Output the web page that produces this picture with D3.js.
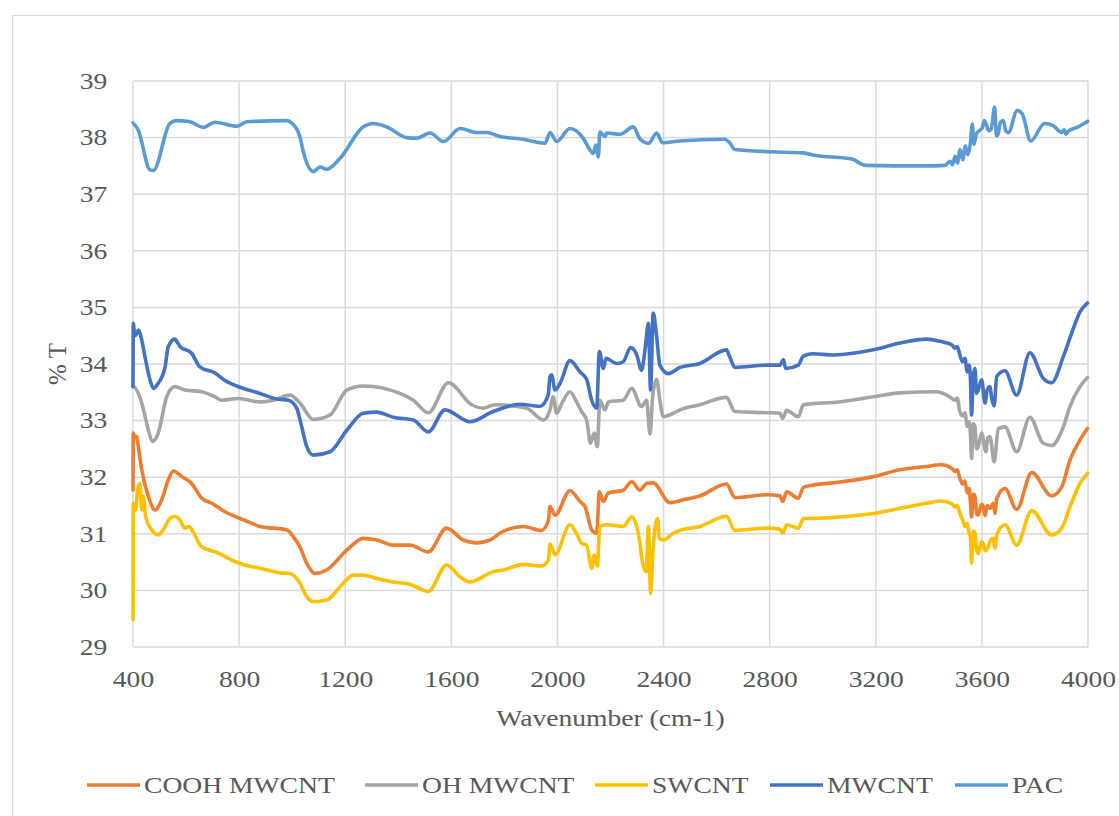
<!DOCTYPE html>
<html>
<head>
<meta charset="utf-8">
<script src="https://cdn.jsdelivr.net/npm/d3@7"></script>
<style>
  html, body { margin: 0; padding: 0; background: #fff; }
  svg { display: block; }
  svg text { fill: #595959; }
</style>
</head>
<body>
<svg id="chart" width="1119" height="816"></svg>
<script>
// FTIR spectra: [wavenumber (cm-1), transmittance (%)]
const coohMwcnt = [[400,31.77],[401,32.78],[407,32.70],[414,32.72],[420,32.54],[433,32.13],[458,31.66],[483,31.42],[508,31.60],[533,31.95],[552,32.11],[584,32.01],[621,31.89],[659,31.63],[697,31.54],[747,31.39],[820,31.24],[879,31.13],[979,31.07],[1004,30.95],[1029,30.77],[1055,30.48],[1086,30.30],[1130,30.36],[1206,30.71],[1268,30.92],[1319,30.89],[1381,30.80],[1444,30.80],[1513,30.68],[1582,31.10],[1645,30.89],[1695,30.84],[1746,30.89],[1783,31.01],[1871,31.13],[1940,31.06],[1966,31.24],[1972,31.48],[1991,31.33],[2047,31.76],[2085,31.57],[2104,31.48],[2129,31.07],[2148,31.01],[2158,31.74],[2173,31.57],[2192,31.72],[2248,31.77],[2280,31.92],[2311,31.77],[2336,31.89],[2361,31.90],[2424,31.55],[2474,31.60],[2537,31.67],[2637,31.88],[2669,31.64],[2789,31.69],[2839,31.67],[2849,31.57],[2864,31.74],[2908,31.63],[2927,31.82],[2964,31.86],[3040,31.90],[3191,32.01],[3291,32.13],[3392,32.19],[3448,32.22],[3486,32.16],[3499,32.10],[3507,32.13],[3517,31.98],[3527,31.88],[3536,31.93],[3545,31.72],[3552,31.80],[3557,31.55],[3561,31.30],[3568,31.70],[3574,31.66],[3580,31.36],[3586,31.33],[3599,31.52],[3605,31.48],[3612,31.32],[3620,31.50],[3631,31.45],[3643,31.54],[3649,31.36],[3656,31.62],[3687,31.80],[3731,31.43],[3788,32.08],[3863,31.67],[3901,31.83],[3932,32.30],[3970,32.66],[3998,32.86]];

const ohMwcnt = [[400,33.60],[401,33.60],[433,33.31],[458,32.83],[473,32.63],[495,32.78],[527,33.42],[558,33.60],[596,33.54],[659,33.51],[709,33.42],[734,33.36],[797,33.39],[879,33.33],[929,33.36],[992,33.45],[1029,33.31],[1080,33.02],[1143,33.10],[1206,33.54],[1268,33.61],[1406,33.48],[1457,33.36],[1513,33.14],[1589,33.67],[1677,33.28],[1720,33.22],[1765,33.28],[1884,33.22],[1947,33.01],[1972,33.19],[1984,33.42],[1997,33.13],[2016,33.30],[2047,33.51],[2072,33.33],[2091,33.16],[2110,33.01],[2125,32.60],[2139,32.78],[2150,32.54],[2160,33.36],[2179,33.19],[2192,33.33],[2248,33.36],[2280,33.57],[2317,33.25],[2336,33.36],[2349,32.76],[2359,33.42],[2374,33.73],[2386,33.36],[2399,33.07],[2437,33.13],[2462,33.19],[2537,33.28],[2637,33.41],[2669,33.16],[2789,33.14],[2839,33.13],[2849,33.04],[2864,33.18],[2908,33.07],[2927,33.28],[2964,33.30],[3040,33.32],[3191,33.42],[3291,33.49],[3429,33.51],[3479,33.42],[3499,33.36],[3507,33.40],[3517,33.16],[3527,33.08],[3536,33.14],[3545,32.90],[3552,32.98],[3557,32.75],[3561,32.33],[3568,32.95],[3574,32.89],[3580,32.50],[3586,32.54],[3599,32.78],[3615,32.45],[3622,32.70],[3631,32.72],[3637,32.55],[3646,32.27],[3662,32.86],[3687,32.89],[3731,32.45],[3781,33.06],[3831,32.60],[3863,32.56],[3907,32.89],[3932,33.25],[3970,33.60],[3998,33.76]];

const swcnt = [[400,29.48],[401,31.54],[410,31.42],[418,31.80],[426,31.89],[433,31.42],[439,31.66],[448,31.30],[470,31.07],[495,30.98],[514,31.07],[539,31.27],[558,31.31],[577,31.24],[596,31.10],[608,31.13],[659,30.77],[722,30.66],[784,30.51],[820,30.45],[879,30.39],[954,30.31],[992,30.30],[1029,30.13],[1055,29.89],[1080,29.80],[1130,29.83],[1180,30.06],[1230,30.27],[1268,30.27],[1319,30.21],[1381,30.15],[1444,30.11],[1513,29.98],[1582,30.45],[1633,30.24],[1670,30.15],[1758,30.33],[1796,30.36],[1871,30.46],[1940,30.43],[1966,30.54],[1972,30.82],[1991,30.63],[2047,31.16],[2072,31.01],[2091,30.83],[2110,30.80],[2129,30.39],[2139,30.63],[2150,30.43],[2160,31.13],[2186,31.16],[2248,31.13],[2280,31.30],[2311,30.83],[2317,30.60],[2334,30.33],[2343,31.13],[2351,29.95],[2361,30.77],[2377,31.27],[2384,30.92],[2399,30.89],[2437,31.01],[2462,31.06],[2537,31.13],[2637,31.31],[2669,31.06],[2789,31.10],[2839,31.08],[2849,31.01],[2864,31.16],[2908,31.10],[2927,31.27],[2964,31.27],[3040,31.29],[3191,31.36],[3291,31.45],[3392,31.54],[3448,31.58],[3486,31.53],[3499,31.47],[3507,31.50],[3517,31.36],[3527,31.25],[3536,31.13],[3545,31.18],[3550,31.05],[3557,30.95],[3561,30.48],[3568,31.05],[3574,31.01],[3580,30.72],[3586,30.65],[3599,30.86],[3605,30.83],[3612,30.70],[3624,30.77],[3631,30.88],[3643,30.92],[3649,30.74],[3656,30.98],[3687,31.16],[3731,30.80],[3788,31.41],[3863,30.98],[3901,31.10],[3932,31.48],[3970,31.89],[3998,32.07]];

const mwcnt = [[400,33.60],[401,34.72],[407,34.50],[414,34.54],[420,34.60],[433,34.42],[445,34.13],[464,33.72],[477,33.57],[495,33.66],[521,33.95],[533,34.31],[558,34.44],[565,34.40],[577,34.31],[621,34.19],[652,33.95],[709,33.84],[747,33.71],[803,33.59],[879,33.48],[942,33.38],[986,33.36],[1017,33.22],[1036,32.89],[1055,32.54],[1080,32.39],[1143,32.45],[1206,32.83],[1268,33.13],[1319,33.15],[1381,33.06],[1457,33.01],[1513,32.80],[1576,33.19],[1670,32.98],[1758,33.16],[1859,33.29],[1934,33.25],[1965,33.45],[1972,33.78],[1978,33.81],[1991,33.54],[2010,33.66],[2047,34.06],[2085,33.86],[2110,33.73],[2129,33.36],[2148,33.22],[2158,34.22],[2173,33.92],[2183,34.10],[2223,34.01],[2248,34.04],[2276,34.29],[2299,34.16],[2317,33.89],[2330,34.25],[2343,34.72],[2351,33.54],[2361,34.90],[2374,34.48],[2386,33.98],[2418,33.83],[2462,33.94],[2537,34.01],[2637,34.25],[2649,34.13],[2669,33.94],[2789,33.98],[2839,33.98],[2852,34.08],[2860,33.92],[2908,33.98],[2927,34.14],[2964,34.18],[3040,34.16],[3191,34.25],[3291,34.37],[3392,34.44],[3442,34.40],[3486,34.34],[3499,34.28],[3507,34.31],[3517,34.16],[3527,34.04],[3536,34.10],[3545,33.86],[3552,33.98],[3557,33.72],[3561,33.10],[3568,33.81],[3574,33.92],[3580,33.48],[3586,33.54],[3599,33.72],[3612,33.31],[3620,33.54],[3631,33.60],[3636,33.42],[3646,33.26],[3656,33.78],[3687,33.88],[3731,33.45],[3781,34.20],[3831,33.75],[3863,33.67],[3907,34.13],[3938,34.54],[3970,34.92],[3998,35.08]];

const pac = [[400,38.26],[420,38.13],[464,37.43],[477,37.42],[539,38.25],[565,38.30],[615,38.28],[665,38.18],[709,38.27],[791,38.20],[829,38.28],[979,38.30],[1000,38.25],[1029,38.02],[1042,37.75],[1080,37.40],[1105,37.48],[1130,37.44],[1180,37.63],[1268,38.19],[1306,38.25],[1356,38.19],[1432,38.00],[1469,37.99],[1520,38.08],[1570,37.93],[1633,38.16],[1695,38.09],[1733,38.09],[1783,38.02],[1871,37.97],[1953,37.90],[1972,38.09],[1997,37.93],[2047,38.16],[2097,37.99],[2123,37.78],[2135,37.72],[2145,37.87],[2154,37.66],[2160,38.10],[2179,38.02],[2186,38.08],[2236,38.06],[2286,38.19],[2312,37.97],[2344,37.90],[2374,38.08],[2396,37.91],[2461,37.94],[2630,37.97],[2649,37.91],[2669,37.79],[2799,37.75],[2928,37.73],[2967,37.69],[3110,37.62],[3162,37.51],[3382,37.50],[3460,37.51],[3480,37.58],[3489,37.52],[3499,37.67],[3508,37.55],[3518,37.79],[3528,37.61],[3538,37.85],[3547,37.70],[3557,37.91],[3564,38.24],[3570,37.88],[3579,38.06],[3590,38.12],[3602,38.18],[3609,38.30],[3616,38.24],[3626,38.12],[3635,38.15],[3648,38.54],[3655,38.03],[3661,38.06],[3670,38.27],[3681,38.30],[3690,38.12],[3700,38.09],[3733,38.48],[3752,38.42],[3784,37.94],[3836,38.25],[3869,38.21],[3901,38.09],[3910,38.14],[3917,38.06],[3927,38.12],[3959,38.18],[3999,38.29]];

const seriesNames = ["COOH MWCNT", "OH MWCNT", "SWCNT", "MWCNT", "PAC"];
const seriesColors = ["#ED7D31", "#A5A5A5", "#FFC000", "#4472C4", "#5B9BD5"];
const seriesData = [coohMwcnt, ohMwcnt, swcnt, mwcnt, pac];

const xTicks = [400, 800, 1200, 1600, 2000, 2400, 2800, 3200, 3600, 4000];
const yTicks = [29, 30, 31, 32, 33, 34, 35, 36, 37, 38, 39];

const FONT = '"Liberation Serif", "Times New Roman", serif';
const FONT_SIZE = 23;
const STRETCH = "scale(1.2,1)";   // wide text setting

const svg = d3.select("#chart");

// outer chart frame
svg.append("rect")
  .attr("x", 12.5).attr("y", 15.5)
  .attr("width", 1130).attr("height", 820)
  .attr("fill", "none").attr("stroke", "#d9d9d9").attr("stroke-width", 1.2);

const plot = { left: 133, right: 1088, top: 81, bottom: 647 };

const x = d3.scaleLinear().domain([400, 4000]).range([plot.left, plot.right]);
const y = d3.scaleLinear().domain([29, 39]).range([plot.bottom, plot.top]);

// gridlines
const grid = svg.append("g");
grid.selectAll("line.h").data(yTicks).join("line")
  .attr("x1", plot.left).attr("x2", plot.right)
  .attr("y1", d => y(d)).attr("y2", d => y(d))
  .attr("stroke", "#d9d9d9").attr("stroke-width", 1.5);
grid.selectAll("line.v").data(xTicks).join("line")
  .attr("y1", plot.top).attr("y2", plot.bottom)
  .attr("x1", d => x(d)).attr("x2", d => x(d))
  .attr("stroke", "#d9d9d9").attr("stroke-width", 1.5);

// axes (labels only, lines come from the grid)
const xAxis = svg.append("g")
  .attr("transform", `translate(0,${plot.bottom + 21})`)
  .call(d3.axisBottom(x).tickValues(xTicks).tickSize(0).tickFormat(d3.format("d")));
xAxis.attr("font-family", FONT).attr("font-size", FONT_SIZE);
xAxis.select(".domain").remove();
xAxis.selectAll("text").attr("dy", "0.71em").attr("fill", "#595959").attr("transform", STRETCH);

const yAxis = svg.append("g")
  .attr("transform", `translate(${plot.left - 22},0)`)
  .call(d3.axisLeft(y).tickValues(yTicks).tickSize(0).tickFormat(d3.format("d")));
yAxis.attr("font-family", FONT).attr("font-size", FONT_SIZE);
yAxis.select(".domain").remove();
yAxis.selectAll("text").attr("fill", "#595959").attr("transform", STRETCH);

// axis titles
svg.append("text")
  .attr("transform", `translate(${(plot.left + plot.right) / 2},726) ${STRETCH}`)
  .attr("text-anchor", "middle").attr("font-size", FONT_SIZE).attr("font-family", FONT)
  .text("Wavenumber (cm-1)");
svg.append("text")
  .attr("transform", "translate(66,364) rotate(-90)")
  .attr("text-anchor", "middle").attr("font-size", 25).attr("font-family", FONT)
  .text("% T");

// spectra
const line = d3.line()
  .x(d => x(d[0])).y(d => y(d[1]))
  .curve(d3.curveMonotoneX);

svg.append("g").selectAll("path").data(seriesData).join("path")
  .attr("d", d => line(d))
  .attr("fill", "none")
  .attr("stroke", (d, i) => seriesColors[i])
  .attr("stroke-width", 3.6)
  .attr("stroke-linejoin", "round")
  .attr("stroke-linecap", "round");

// legend
const legendX = [87, 365, 595, 770, 955];
const legend = svg.append("g").selectAll("g").data(seriesNames).join("g")
  .attr("transform", (d, i) => `translate(${legendX[i]},785)`);
legend.append("line")
  .attr("x1", 0).attr("x2", 53).attr("y1", 0).attr("y2", 0)
  .attr("stroke", (d, i) => seriesColors[i]).attr("stroke-width", 3.6);
legend.append("text")
  .attr("transform", `translate(57,0) ${STRETCH}`)
  .attr("dy", "0.35em")
  .attr("font-size", FONT_SIZE).attr("font-family", FONT)
  .text(d => d);
</script>
</body>
</html>
